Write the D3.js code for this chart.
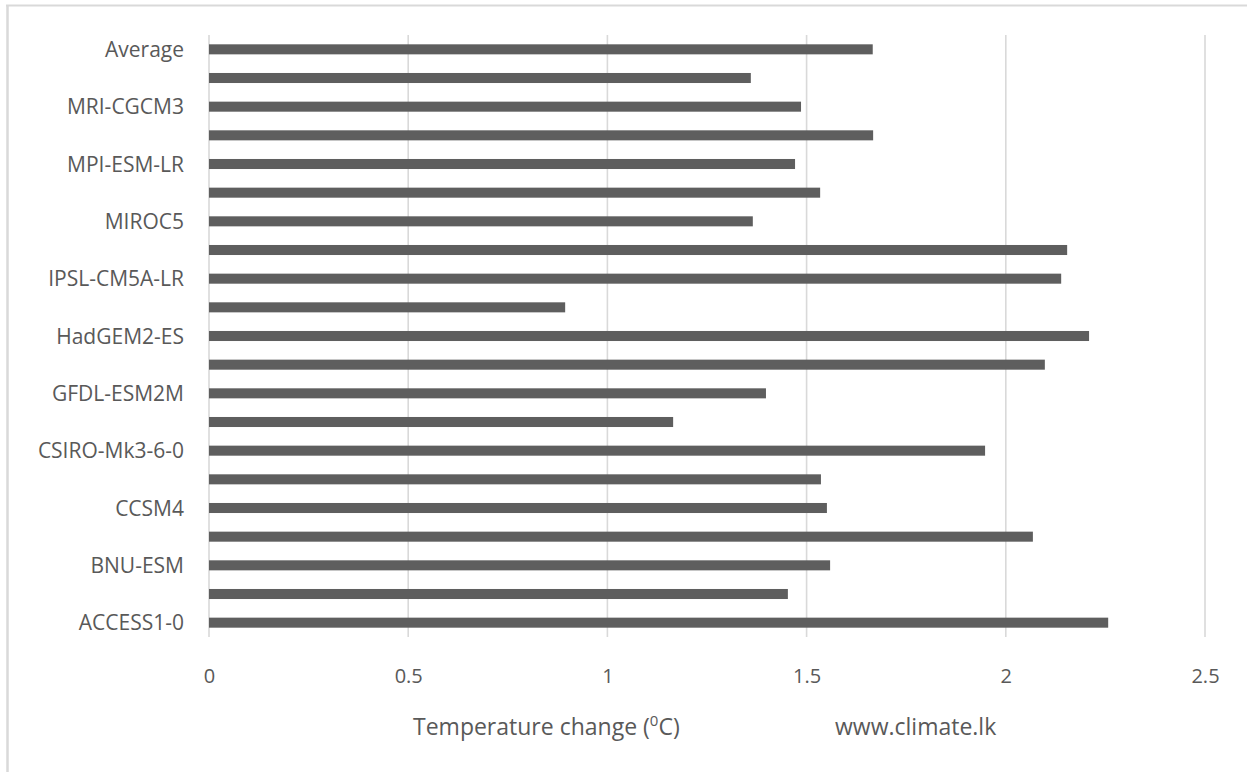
<!DOCTYPE html>
<html>
<head>
<meta charset="utf-8">
<script src="https://cdn.jsdelivr.net/npm/d3@7"></script>
<style>
  html, body { margin: 0; padding: 0; background: #ffffff; }
  svg { display: block; }
  text { font-family: "Open Sans", "Noto Sans", sans-serif; fill: #595959; }
</style>
</head>
<body>
<svg id="chart" width="1247" height="772"></svg>
<script>
// Climate models, bottom to top, ending with the ensemble average
const models = [
  "ACCESS1-0", "ACCESS1-3", "BNU-ESM", "CanESM2", "CCSM4", "CESM1-BGC",
  "CSIRO-Mk3-6-0", "GFDL-CM3", "GFDL-ESM2M", "HadGEM2-CC", "HadGEM2-ES",
  "INMCM4", "IPSL-CM5A-LR", "IPSL-CM5A-MR", "MIROC5", "MIROC-ESM",
  "MPI-ESM-LR", "MPI-ESM-MR", "MRI-CGCM3", "NorESM1-M", "Average"
];

// Projected temperature change (°C) for each model
const tempChange = [
  2.257, 1.453, 1.559, 2.068, 1.551, 1.536,
  1.948, 1.165, 1.398, 2.098, 2.209,
  0.894, 2.139, 2.154, 1.365, 1.534,
  1.471, 1.667, 1.486, 1.360, 1.666
];

const xTicks = [0, 0.5, 1, 1.5, 2, 2.5];
const xTickLabels = ["0", "0.5", "1", "1.5", "2", "2.5"];

const data = models.map((m, i) => ({ model: m, value: tempChange[i] }));

const svg = d3.select("#chart");
const plotLeft = 209, plotRight = 1205, plotTop = 35, plotBottom = 637;

// Chart frame (top and left edges)
svg.append("line").attr("x1", 6).attr("x2", 1247).attr("y1", 5.5).attr("y2", 5.5)
  .attr("stroke", "#d9d9d9").attr("stroke-width", 2);
svg.append("line").attr("x1", 7.5).attr("x2", 7.5).attr("y1", 5).attr("y2", 772)
  .attr("stroke", "#d9d9d9").attr("stroke-width", 2.5);

const x = d3.scaleLinear().domain([0, 2.5]).range([plotLeft, plotRight]);
const y = d3.scaleBand()
  .domain(models.slice().reverse())
  .range([plotTop, plotBottom])
  .paddingInner(0.65)
  .paddingOuter(0.325);

// Vertical gridlines
svg.append("g").selectAll("line")
  .data(xTicks)
  .join("line")
  .attr("x1", d => x(d)).attr("x2", d => x(d))
  .attr("y1", plotTop).attr("y2", plotBottom)
  .attr("stroke", "#d9d9d9").attr("stroke-width", 1.6);

// Bars
svg.append("g").selectAll("rect")
  .data(data)
  .join("rect")
  .attr("x", x(0))
  .attr("y", d => y(d.model))
  .attr("width", d => x(d.value) - x(0))
  .attr("height", y.bandwidth())
  .attr("fill", "#5e5e5e");

// Category axis: every other model is labelled
const yAxis = d3.axisLeft(y)
  .tickValues(models.filter((m, i) => i % 2 === 0))
  .tickSize(0)
  .tickPadding(0);
const gy = svg.append("g").attr("transform", `translate(${plotLeft - 25},0)`).call(yAxis);
gy.select(".domain").remove();
gy.selectAll("text")
  .attr("font-size", 21)
  .attr("dy", "0.36em")
  .style("font-family", '"Open Sans", "Noto Sans", sans-serif')
  .attr("fill", "#595959");

// Value axis
const xAxis = d3.axisBottom(x)
  .tickValues(xTicks)
  .tickFormat((d, i) => xTickLabels[i])
  .tickSize(0)
  .tickPadding(0);
const gx = svg.append("g").attr("transform", `translate(0,${plotBottom})`).call(xAxis);
gx.select(".domain").remove();
gx.selectAll("text")
  .attr("font-size", 20)
  .attr("y", 46)
  .attr("dy", 0)
  .style("font-family", '"Open Sans", "Noto Sans", sans-serif')
  .attr("fill", "#595959");

// Axis title with superscript degree marker
const title = svg.append("text")
  .attr("x", 413).attr("y", 735)
  .attr("font-size", 23);
title.append("tspan").text("Temperature change (");
title.append("tspan").text("0").attr("font-size", 15).attr("dy", -9);
title.append("tspan").text("C)").attr("dy", 9);

// Source credit
svg.append("text")
  .attr("x", 835).attr("y", 735)
  .attr("font-size", 23)
  .text("www.climate.lk");
</script>
</body>
</html>
